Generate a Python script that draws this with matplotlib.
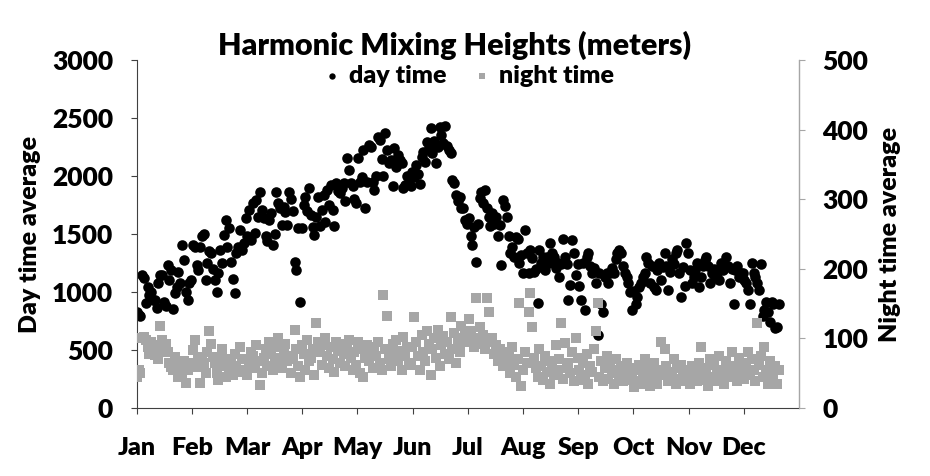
import numpy as np
import matplotlib
matplotlib.use("Agg")
import matplotlib.pyplot as plt

plt.rcParams['font.family'] = ['Lato', 'DejaVu Sans']
plt.rcParams['font.weight'] = 'heavy'
plt.rcParams['axes.labelweight'] = 'heavy'

# day time averages (meters), one value per day, by month
day_jan = [830, 800, 790, 1150, 1120, 905, 1045, 975, 1000, 930, 930, 860, 1080, 1145, 1150, 915,
           880, 1235, 1100, 1190, 855, 990, 1040, 1170, 1080, 1405, 1275, 1000, 930, 1080, 1100]
day_feb = [1405, 1390, 1235, 1190, 1390, 1480, 1500, 1100, 1250, 1350, 1335, 1200, 1105, 1000,
           1160, 1360, 1250, 1490, 1620, 1390, 1550, 1260, 1115, 995, 1335, 1390, 1535, 1365]
day_mar = [1420, 1635, 1480, 1705, 1450, 1765, 1505, 1790, 1650, 1865, 1705, 1640, 1480, 1435, 1620,
           1680, 1405, 1500, 1865, 1765, 1720, 1580, 1735, 1690, 1580, 1860, 1800, 1700, 1260, 1190, 1550]
day_apr = [916, 1550, 1750, 1820, 1700, 1895, 1665, 1560, 1490, 1650, 1820, 1565, 1710, 1835, 1600,
           1880, 1750, 1920, 1705, 1565, 1940, 1870, 1850, 1900, 1940, 1780, 2155, 2055, 1940, 1910]
day_may = [1805, 1765, 2155, 1950, 1995, 2225, 1720, 1950, 2265, 2250, 1950, 1880, 2000, 2340, 2310, 2150,
           2000, 2370, 2225, 2110, 2140, 1910, 2240, 2080, 2180, 2140, 2110, 1895, 1920, 2000, 1995]
day_jun = [1910, 2035, 1990, 2095, 2020, 1930, 2165, 2210, 2120, 2295, 2240, 2410, 2195, 2300, 2110,
           2250, 2425, 2355, 2280, 2430, 2260, 2225, 2200, 1965, 1940, 1835, 1780, 1820, 1720, 1725]
day_jul = [1620, 1590, 1640, 1480, 1405, 1560, 1260, 1590, 1810, 1865, 1765, 1880, 1720, 1650, 1565, 1680,
           1590, 1650, 1480, 1580, 1235, 1795, 1740, 1650, 1480, 1335, 1390, 1305, 1475, 1460, 1250]
day_aug = [1320, 1160, 1535, 1335, 1160, 1360, 1290, 1175, 1200, 905, 1360, 1250, 1305, 1190, 1300, 1250,
           1420, 1335, 1300, 1205, 1250, 1130, 1245, 1460, 1300, 1245, 930, 1060, 1450, 1335, 1150]
day_sep = [1245, 1050, 930, 1250, 845, 1305, 1335, 1220, 1160, 1205, 1075, 630, 1160, 900, 830,
           1130, 1160, 1075, 1160, 1210, 1160, 1280, 1335, 1360, 1335, 1220, 1160, 1130, 1080, 1000]
day_oct = [845, 1005, 900, 960, 1045, 1075, 1130, 1160, 1305, 1250, 1075, 1220, 1045, 1020, 1190, 1250,
           1100, 1215, 1335, 1220, 1020, 1175, 1280, 1240, 1335, 1365, 1160, 960, 1215, 1050, 1420]
day_nov = [1335, 1190, 1075, 1130, 1190, 1250, 1045, 1130, 1220, 1275, 1305, 1220, 1075, 1160, 1200,
           1130, 1160, 1105, 1250, 1190, 1220, 1305, 1220, 1075, 1200, 900, 1190, 1220, 1130, 1160]
day_dec = [1160, 1100, 1075, 1020, 900, 1250, 1160, 1130, 1075, 1020, 1245, 790, 845, 915, 830, 745,
           915, 900, 690, 700, 900]

# night time averages (meters)
night_jan = [45, 55, 50, 100, 102, 97, 88, 78, 95, 83, 76, 90, 70, 118, 98, 85, 92, 80, 65, 59,
             55, 73, 62, 45, 64, 50, 68, 36, 55, 59, 64]
night_feb = [83, 97, 59, 72, 36, 73, 64, 50, 80, 110, 92, 73, 64, 50, 40, 73, 85, 60, 45, 70,
             55, 65, 48, 78, 60, 52, 88, 70]
night_mar = [55, 70, 48, 62, 80, 75, 58, 90, 68, 33, 50, 72, 85, 60, 95, 78, 55, 65, 88, 100,
             72, 58, 82, 92, 68, 75, 50, 70, 112, 85, 60]
night_apr = [45, 90, 78, 55, 98, 68, 72, 85, 48, 122, 95, 80, 62, 90, 100, 75, 58, 88, 70, 52,
             95, 82, 65, 92, 78, 60, 85, 98, 72, 55]
night_may = [80, 62, 95, 50, 85, 45, 72, 90, 68, 78, 58, 88, 75, 95, 65, 55, 162, 85, 132, 70,
             60, 92, 78, 98, 68, 82, 55, 102, 75, 88, 65]
night_jun = [62, 88, 131, 95, 75, 55, 105, 80, 68, 110, 92, 48, 85, 100, 72, 112, 60, 90, 104, 78,
             95, 70, 131, 85, 108, 65, 95, 80, 118, 100]
night_jul = [105, 95, 128, 110, 98, 88, 158, 100, 117, 92, 105, 85, 158, 138, 95, 100, 78, 90, 68, 85,
             72, 60, 80, 65, 75, 50, 88, 62, 45, 70, 151]
night_aug = [31, 55, 80, 65, 138, 165, 117, 72, 58, 45, 85, 60, 40, 75, 52, 68, 35, 62, 48, 90,
             55, 70, 122, 42, 93, 58, 65, 50, 80, 38, 100]
night_sep = [72, 55, 40, 65, 48, 78, 35, 60, 52, 85, 110, 151, 45, 68, 38, 58, 75, 42, 62, 50,
             35, 70, 55, 45, 60, 38, 52, 65, 40, 58]
night_oct = [45, 30, 55, 38, 62, 35, 48, 70, 40, 58, 32, 50, 65, 42, 35, 55, 95, 48, 84, 60,
             38, 52, 45, 70, 35, 58, 42, 62, 50, 38, 55]
night_nov = [48, 35, 60, 42, 55, 38, 65, 88, 50, 40, 58, 32, 70, 45, 62, 38, 52, 75, 42, 55,
             35, 68, 48, 60, 80, 45, 58, 38, 72, 50]
night_dec = [65, 42, 58, 80, 48, 70, 55, 38, 122, 62, 75, 45, 88, 55, 35, 68, 50, 42, 60, 35, 55]

months = ['Jan', 'Feb', 'Mar', 'Apr', 'May', 'Jun', 'Jul', 'Aug', 'Sep', 'Oct', 'Nov', 'Dec']

day = np.array(day_jan + day_feb + day_mar + day_apr + day_may + day_jun +
               day_jul + day_aug + day_sep + day_oct + day_nov + day_dec)
night = np.array(night_jan + night_feb + night_mar + night_apr + night_may + night_jun +
                 night_jul + night_aug + night_sep + night_oct + night_nov + night_dec)
x = np.arange(len(day))

fig = plt.figure(figsize=(9.3, 4.76), dpi=100)
ax = fig.add_axes([0.147, 0.143, 0.712, 0.731])
ax2 = ax.twinx()

h1 = ax.scatter(x, day, s=58, c='black', marker='o', linewidths=0, label='day time')
h2 = ax2.scatter(x, night, s=52, c='#a6a6a6', marker='s', linewidths=0, label='night time')

ax.set_xlim(0, 365)
ax.set_ylim(0, 3000)
ax2.set_ylim(0, 500)
ax.set_yticks(np.arange(0, 3001, 500))
ax2.set_yticks(np.arange(0, 501, 100))
ax.set_xticks(np.arange(12) * 365 / 12)
ax.set_xticklabels(months)

for a in (ax, ax2):
    a.spines['top'].set_visible(False)
ax.spines['left'].set_color('#404040')
ax.spines['bottom'].set_color('#404040')
ax2.spines['right'].set_color('#a6a6a6')
ax2.spines['left'].set_visible(False)
ax2.spines['bottom'].set_visible(False)

ax.tick_params(axis='y', labelsize=19, length=4, pad=13, color='#404040')
ax.tick_params(axis='x', labelsize=18, length=4, pad=17, color='#404040')
ax2.tick_params(axis='y', labelsize=19, length=4, pad=13, color='#a6a6a6')
for lab in ax.get_xticklabels() + ax.get_yticklabels() + ax2.get_yticklabels():
    lab.set_fontweight('heavy')

ax.set_ylabel('Day time average', fontsize=18, fontweight='heavy', labelpad=8)
ax2.set_ylabel('Night time average', fontsize=18, fontweight='heavy', labelpad=8)

fig.text(0.489, 0.905, 'Harmonic Mixing Heights (meters)', ha='center', va='center',
         fontsize=22, fontweight='heavy')

leg = ax2.legend([h1, h2], ['day time', 'night time'], loc='center', ncol=2,
                 bbox_to_anchor=(0.5, 0.955), frameon=False,
                 prop={'size': 18, 'weight': 'heavy'},
                 markerscale=0.6, handlelength=0.8, handletextpad=0.3, columnspacing=1.0)

fig.savefig('out.png', dpi=100)
